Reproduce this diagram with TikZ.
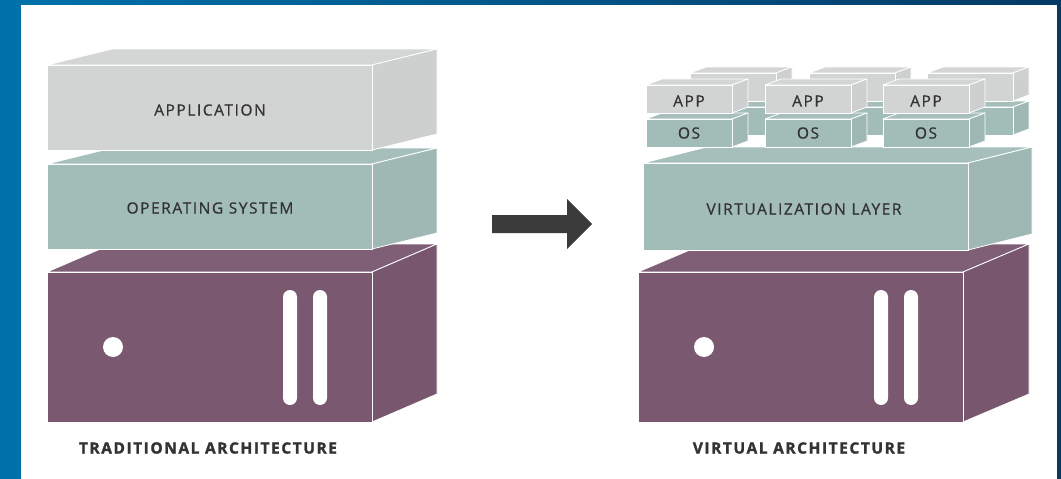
\documentclass[tikz,border=0pt]{standalone}
\usepackage{fontspec}
\setmainfont{Open Sans}
\newfontfamily\boxfont{Open Sans}[LetterSpace=10, FakeBold=0.7]
\newfontfamily\capfont{Open Sans}[LetterSpace=10, FakeBold=1.6]
\usepackage{tikz}
\usetikzlibrary{positioning}

\definecolor{appgrey}{RGB}{209,212,211}
\definecolor{osteal}{RGB}{162,188,184}
\definecolor{hwpurple}{RGB}{122,88,112}
\definecolor{labelgrey}{RGB}{51,51,51}
\definecolor{arrowgrey}{RGB}{59,59,59}
\definecolor{frameblue}{RGB}{0,114,171}
\definecolor{framenavy}{RGB}{4,58,102}

% #1 colour, #2 left, #3 top, #4 width, #5 height, #6 dx, #7 dy (depth)
\newcommand{\slab}[7]{%
  \draw [fill=#1!96!white, edge] (#2,#3) -- ({#2+#6},{#3+#7}) -- ({#2+#4+#6},{#3+#7}) -- ({#2+#4},#3) -- cycle;
  \draw [fill=#1!98!black, edge] ({#2+#4},#3) -- ({#2+#4+#6},{#3+#7}) -- ({#2+#4+#6},{#3+#5+#7}) -- ({#2+#4},{#3+#5}) -- cycle;
  \draw [fill=#1, edge] (#2,#3) rectangle ({#2+#4},{#3+#5});
}

\begin{document}
\begin{tikzpicture}[x=1pt,y=1pt,yscale=-1,xscale=1,
  edge/.style={draw=white, line width=0.8pt, line join=round},
  boxtext/.style={text=labelgrey, font=\boxfont\fontsize{15.5}{18}\selectfont, inner sep=0pt},
  captext/.style={text=labelgrey, font=\capfont\fontsize{15.5}{18}\selectfont\bfseries, inner sep=0pt}]
\useasboundingbox (0,0) rectangle (1061,479);
%Shape: Frame
\shade [left color=frameblue, right color=framenavy] (0,0) rectangle (1061,479);
\fill [white] (21,5) rectangle (1057,479);

%Shape: Traditional stack
\slab{hwpurple}{47}{272}{325}{150}{65}{-28}
\slab{osteal}{47}{164}{325}{85}{65}{-16}
\slab{appgrey}{47}{65}{325}{85}{65}{-16}
%Shape: Server front details
\fill [white] (113,347) circle (10);
\fill [white, rounded corners=7] (283,290) rectangle (297,405);
\fill [white, rounded corners=7] (313,290) rectangle (327,405);

%Shape: Arrow
\fill [arrowgrey] (492,215) -- (567,215) -- (567,199) -- (592,224) -- (567,249) -- (567,233) -- (492,233) -- cycle;

%Shape: Virtual stack
\slab{hwpurple}{638}{272}{325}{150}{66}{-28}
\slab{osteal}{643}{163}{325}{87}{64}{-16}
% back row of guests
\slab{osteal}{690}{107}{86}{28}{16}{-6}
\slab{appgrey}{690}{73}{86}{28}{16}{-6}
\slab{osteal}{809}{107}{86}{28}{16}{-6}
\slab{appgrey}{809}{73}{86}{28}{16}{-6}
\slab{osteal}{927}{107}{86}{28}{16}{-6}
\slab{appgrey}{927}{73}{86}{28}{16}{-6}
% front row of guests
\slab{osteal}{646}{119}{86}{28}{16}{-6}
\slab{appgrey}{646}{85}{86}{28}{16}{-6}
\slab{osteal}{765}{119}{86}{28}{16}{-6}
\slab{appgrey}{765}{85}{86}{28}{16}{-6}
\slab{osteal}{883}{119}{86}{28}{16}{-6}
\slab{appgrey}{883}{85}{86}{28}{16}{-6}
%Shape: Server front details
\fill [white] (704,347) circle (10);
\fill [white, rounded corners=7] (874,290) rectangle (888,405);
\fill [white, rounded corners=7] (904,290) rectangle (918,405);

% Text Node
\node [boxtext] (application) at (210,110) {APPLICATION};
% Text Node
\node [boxtext] (opsystem) at (210,208) {OPERATING SYSTEM};
% Text Node
\node [boxtext] (virtlayer) at (804,209) {VIRTUALIZATION LAYER};
% Text Node
\node [boxtext] (appa) at (689,101) {APP};
\node [boxtext] (appb) at (808,101) {APP};
\node [boxtext] (appc) at (926,101) {APP};
% Text Node
\node [boxtext] (osa) at (689,133) {OS};
\node [boxtext] (osb) at (808,133) {OS};
\node [boxtext] (osc) at (926,133) {OS};
% Text Node
\node [captext] (tradcap) at (208,448) {TRADITIONAL ARCHITECTURE};
% Text Node
\node [captext] (virtcap) at (799,448) {VIRTUAL ARCHITECTURE};
\end{tikzpicture}
\end{document}
